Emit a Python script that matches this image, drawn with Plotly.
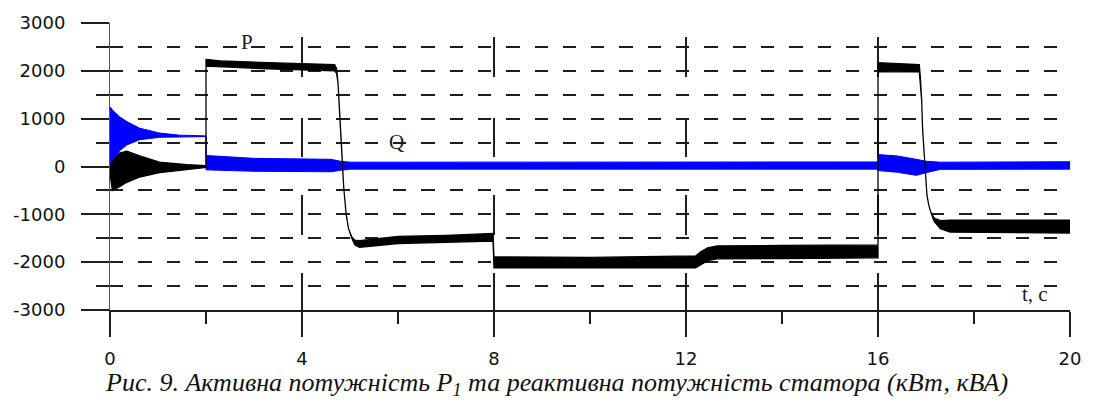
import plotly.graph_objects as go

# ---- data (envelopes of the noisy signals) ----
# Active power P (black): time, upper envelope, lower envelope
P_t  = [0.0, 0.05, 0.2, 0.35, 0.62, 1.03, 1.6, 2.0, 2.0, 2.3, 3.3, 4.68, 4.72, 4.75,
        4.79, 4.83, 4.87, 4.92, 4.97, 5.03, 5.1, 5.2, 6.0, 7.0, 7.98, 8.0, 10.0,
        12.2, 12.3, 12.45, 12.65, 14.0, 16.0, 16.0, 16.86, 16.88, 16.91, 16.93,
        16.97, 17.02, 17.06, 17.1, 17.17, 17.3, 17.5, 18.5, 20.0]
P_hi = [0, 100, 280, 320, 220, 90, 40, 20, 2240, 2210, 2170, 2130, 2050, 1750,
        1000, 300, -450, -1000, -1300, -1460, -1540, -1550, -1460, -1440, -1400, -1890, -1900,
        -1870, -1790, -1700, -1660, -1650, -1640, 2170, 2130, 1900, 1380, 760,
        220, -600, -820, -950, -1080, -1130, -1120, -1120, -1120]
P_lo = [-150, -500, -420, -330, -220, -130, -60, -20, 2100, 2080, 2040, 2000, 1950, 1750,
        1000, 300, -450, -1000, -1300, -1480, -1640, -1690, -1610, -1590, -1560, -2120, -2120,
        -2120, -2060, -1970, -1930, -1925, -1910, 1980, 1980, 1900, 1380, 760,
        220, -600, -820, -950, -1150, -1300, -1370, -1380, -1390]

# Reactive power Q (blue): time, upper envelope, lower envelope
Q_t  = [0.0, 0.06, 0.2, 0.35, 0.62, 1.03, 1.45, 2.0, 2.0, 3.0, 4.6, 4.8, 5.0, 8.0,
        12.0, 16.0, 16.0, 16.4, 16.8, 17.0, 17.3, 20.0]
Q_hi = [1250, 1170, 1040, 940, 800, 700, 655, 640, 230, 170, 150, 110, 90, 90,
        95, 95, 250, 220, 150, 110, 90, 100]
Q_lo = [0, 100, 330, 450, 560, 610, 625, 625, -70, -100, -110, -80, -55, -55,
        -55, -55, -85, -120, -185, -130, -60, -55]

x_ticks = [0, 4, 8, 12, 16, 20]
x_minor = [2, 6, 10, 14, 18]
y_ticks = [-3000, -2000, -1000, 0, 1000, 2000, 3000]
y_minor = [-2500, -1500, -500, 500, 1500, 2500]

caption = "Рис. 9. Активна потужність P<sub>1</sub> та реактивна потужність статора (кВт, кВА)"


def band(t, hi, lo):
    return list(t) + list(t)[::-1], list(hi) + list(lo)[::-1]


fig = go.Figure()
qx, qy = band(Q_t, Q_hi, Q_lo)
fig.add_trace(go.Scatter(x=qx, y=qy, mode="lines", fill="toself",
                         fillcolor="#0000ff", line=dict(color="#0000ff", width=1),
                         name="Q", showlegend=False, hoverinfo="skip"))
px_, py_ = band(P_t, P_hi, P_lo)
fig.add_trace(go.Scatter(x=px_, y=py_, mode="lines", fill="toself",
                         fillcolor="#000000", line=dict(color="#000000", width=1.3),
                         name="P", showlegend=False, hoverinfo="skip"))

grid_col = "#1e1e1e"
hdash = "13.3px,15px"
vdash = "0px,14px,40px,41px,39px,38px,40px,38px,42px"
tickfont = dict(family="DejaVu Sans", size=18, color="#111111")

fig.update_xaxes(range=[0, 20], tickvals=x_ticks, ticktext=[str(v) for v in x_ticks],
                 ticks="outside", ticklen=25, tickwidth=1.5, tickcolor=grid_col,
                 showgrid=True, gridcolor=grid_col, gridwidth=2, griddash=vdash,
                 zeroline=False, showline=True, linecolor=grid_col, linewidth=1.5,
                 tickfont=tickfont, ticklabelstandoff=7,
                 minor=dict(tickvals=x_minor, ticks="outside", ticklen=12,
                            tickwidth=1.5, tickcolor=grid_col, showgrid=False))
fig.update_yaxes(range=[-3000, 3000], tickvals=y_ticks, ticktext=[str(v) for v in y_ticks],
                 ticks="outside", ticklen=28, tickwidth=1.5, tickcolor=grid_col,
                 showgrid=True, gridcolor=grid_col, gridwidth=1.5, griddash=hdash,
                 zeroline=False, showline=True, linecolor="#555555", linewidth=1,
                 tickfont=tickfont, ticklabelstandoff=12,
                 minor=dict(tickvals=y_minor, ticks="outside",
                            ticklen=13, tickwidth=1.5, tickcolor=grid_col, showgrid=True,
                            gridcolor=grid_col, gridwidth=1.5, griddash=hdash))

serif = dict(family="Liberation Serif", size=21, color="#1a1a1a")
fig.add_annotation(x=2.85, y=2600, text="P", showarrow=False, font=serif)
fig.add_annotation(x=5.96, y=515, text="Q", showarrow=False, font=serif)
fig.add_annotation(x=19.28, y=-2670, text="t, c", showarrow=False, font=serif)
fig.add_annotation(x=(560 - 110) / 967, y=(310 - 385) / 292, xref="paper", yref="paper",
                   xanchor="center", yanchor="middle",
                   text="<i>" + caption + "</i>", showarrow=False,
                   font=dict(family="Liberation Serif", size=26, color="#111111"))

fig.update_layout(width=1093, height=405, margin=dict(l=110, r=16, t=18, b=95),
                  plot_bgcolor="white", paper_bgcolor="white", showlegend=False)

fig.write_html("out.html")
